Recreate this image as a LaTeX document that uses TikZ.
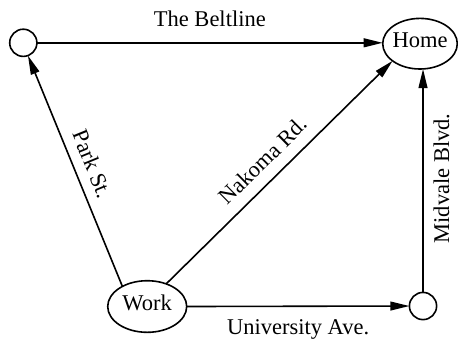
\documentclass[tikz,border=0pt]{standalone}
\usepackage{fontspec}
\setmainfont{Liberation Serif}
\usetikzlibrary{arrows.meta,shapes.geometric}
\begin{document}
\begin{tikzpicture}[x=0.5pt,y=-0.5pt,
  every node/.style={font=\fontsize{11.25}{13}\selectfont},
  ell/.style={ellipse,draw,line width=0.8pt,inner sep=0pt,outer sep=0pt},
  circ/.style={circle,draw,line width=0.8pt,inner sep=0pt,outer sep=0pt,minimum size=13.6pt},
  road/.style={line width=0.8pt,-{Triangle[length=9.5pt,width=4.4pt]}},
  lbl/.style={inner sep=0pt,text height=7.6pt,text depth=2.4pt,sloped}]
\useasboundingbox (0,0) rectangle (458,339);
\node[circ] (c1) at (23.3,42.8) {};
\node[ell,minimum width=37.3pt,minimum height=25.3pt] (Home) at (420,43.7)
  {\makebox[0pt]{\raisebox{-2pt}[0pt][0pt]{Home}}};
\node[ell,minimum width=39.5pt,minimum height=25.8pt] (Work) at (147.2,306.5)
  {\makebox[0pt]{\raisebox{-2pt}[0pt][0pt]{Work}}};
\node[circ] (c2) at (423,306) {};
\draw[road] (c1.east) -- (c1.east -| Home.west)
  node[lbl,midway,above=5.3pt] (lb1) {The Beltline};
\draw[road] (Work.141.7) -- (c1.290)
  node[lbl,midway,above=2.8pt] (lb2) {Park St.};
\draw[road] (Work.50) -- (Home.212)
  node[lbl,pos=0.49,above=3.4pt] (lb3) {Nakoma Rd.};
\draw[road] (Work.east) -- (c2.west)
  node[lbl,midway,below=6.1pt] (lb4) {University Ave.};
\draw[road] (c2.north) -- (c2.north |- Home.south)
  node[lbl,pos=0.51,below=5pt] (lb5) {Midvale Blvd.};
\end{tikzpicture}
\end{document}
